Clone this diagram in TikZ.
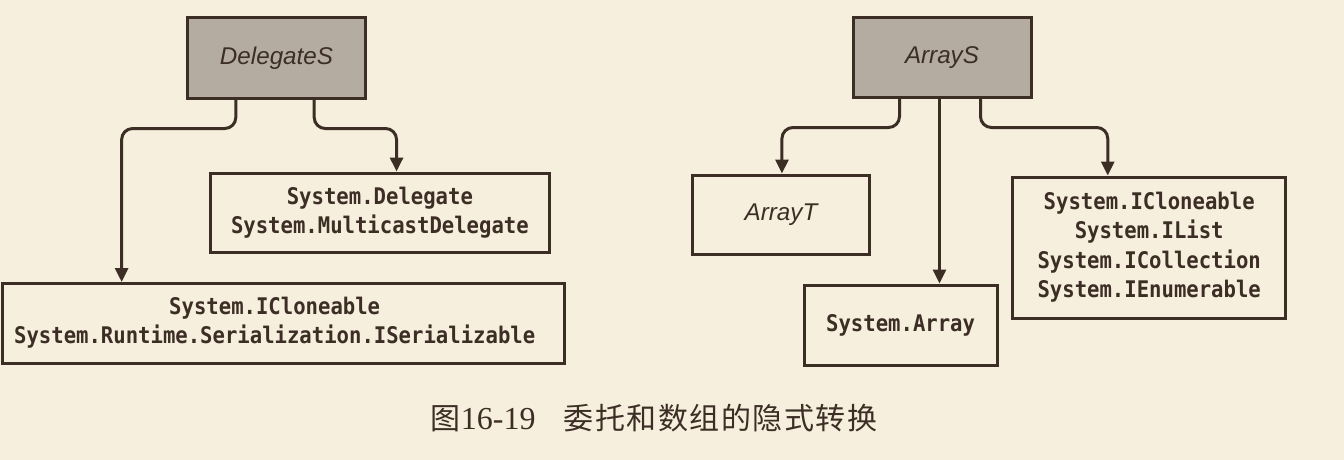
\documentclass[tikz,border=0pt]{standalone}
\usepackage{fontspec}
\usetikzlibrary{arrows.meta}
\newfontfamily\monofnt[FakeStretch=0.9]{DejaVu Sans Mono}
\newfontfamily\labfnt{Liberation Sans}
\newfontfamily\cjkfnt[LetterSpace=5]{Noto Sans CJK SC}
\newfontfamily\numfnt{Liberation Serif}
\definecolor{paper}{RGB}{246,239,221}
\definecolor{ink}{RGB}{60,45,37}
\definecolor{hdr}{RGB}{180,172,161}
\begin{document}
\begin{tikzpicture}[x=1pt,y=-1pt,
  box/.style={draw=ink, line width=3pt, inner sep=0pt, align=center, text=ink},
  hdrbox/.style={box, fill=hdr},
  mono/.style={font={\monofnt\bfseries\fontsize{22.9}{29.5}\selectfont}},
  lab/.style={font={\labfnt\itshape\fontsize{24.2}{28}\selectfont}},
  conn/.style={draw=ink, line width=3pt, rounded corners=11pt, -{Triangle[width=13pt,length=14pt]}}]
\fill[paper] (0,0) rectangle (1344,460);
\useasboundingbox (0,0) rectangle (1344,460);
% left diagram
\node[hdrbox, lab, minimum width=178pt, minimum height=80pt] (DS) at (276.5,58) {DelegateS};
\node[box, mono, minimum width=338.7pt, minimum height=79.5pt] (DD) at (379.9,212.75) {System.Delegate\\System.MulticastDelegate};
\node[box, mono, minimum width=561.5pt, minimum height=79.5pt] (LB) at (283.7,323.25) {\hspace*{-18pt}\begin{tabular}{@{}c@{}}System.ICloneable\\System.Runtime.Serialization.ISerializable\end{tabular}};
\draw[conn] ([xshift=49.8pt]DS.south west) -- ++(0,29) -| ([xshift=120.2pt]LB.north west);
\draw[conn] ([xshift=128.2pt]DS.south west) -- ++(0,29) -| ([xshift=187.5pt]DD.north west);
% right diagram
\node[hdrbox, lab, minimum width=178pt, minimum height=79pt] (AS) at (942,57.5) {ArrayS};
\node[box, lab, minimum width=176.7pt, minimum height=79pt] (AT) at (781,214.5) {ArrayT};
\node[box, mono, minimum width=193pt, minimum height=80pt] (SA) at (900.6,325) {System.Array};
\node[box, mono, minimum width=273.5pt, minimum height=141pt] (IF) at (1149.2,247.5) {\raisebox{4pt}{\begin{tabular}{@{}c@{}}System.ICloneable\\System.IList\\System.ICollection\\System.IEnumerable\end{tabular}}};
\draw[conn] ([xshift=48pt]AS.south west) -- ++(0,29) -| ([xshift=90.8pt]AT.north west);
\draw[conn] ([xshift=88pt]AS.south west) -- ([xshift=88pt]AS.south west |- SA.north);
\draw[conn] ([xshift=129pt]AS.south west) -- ++(0,29) -| ([xshift=96.8pt]IF.north west);
% caption
\node[text=ink, inner sep=0pt] (cap) at (654,418) {{\cjkfnt\fontsize{30}{32}\selectfont 图}{\numfnt\fontsize{32}{32}\selectfont 16-19}\hspace{28pt}{\cjkfnt\fontsize{30}{32}\selectfont 委托和数组的隐式转换}};
\end{tikzpicture}
\end{document}
